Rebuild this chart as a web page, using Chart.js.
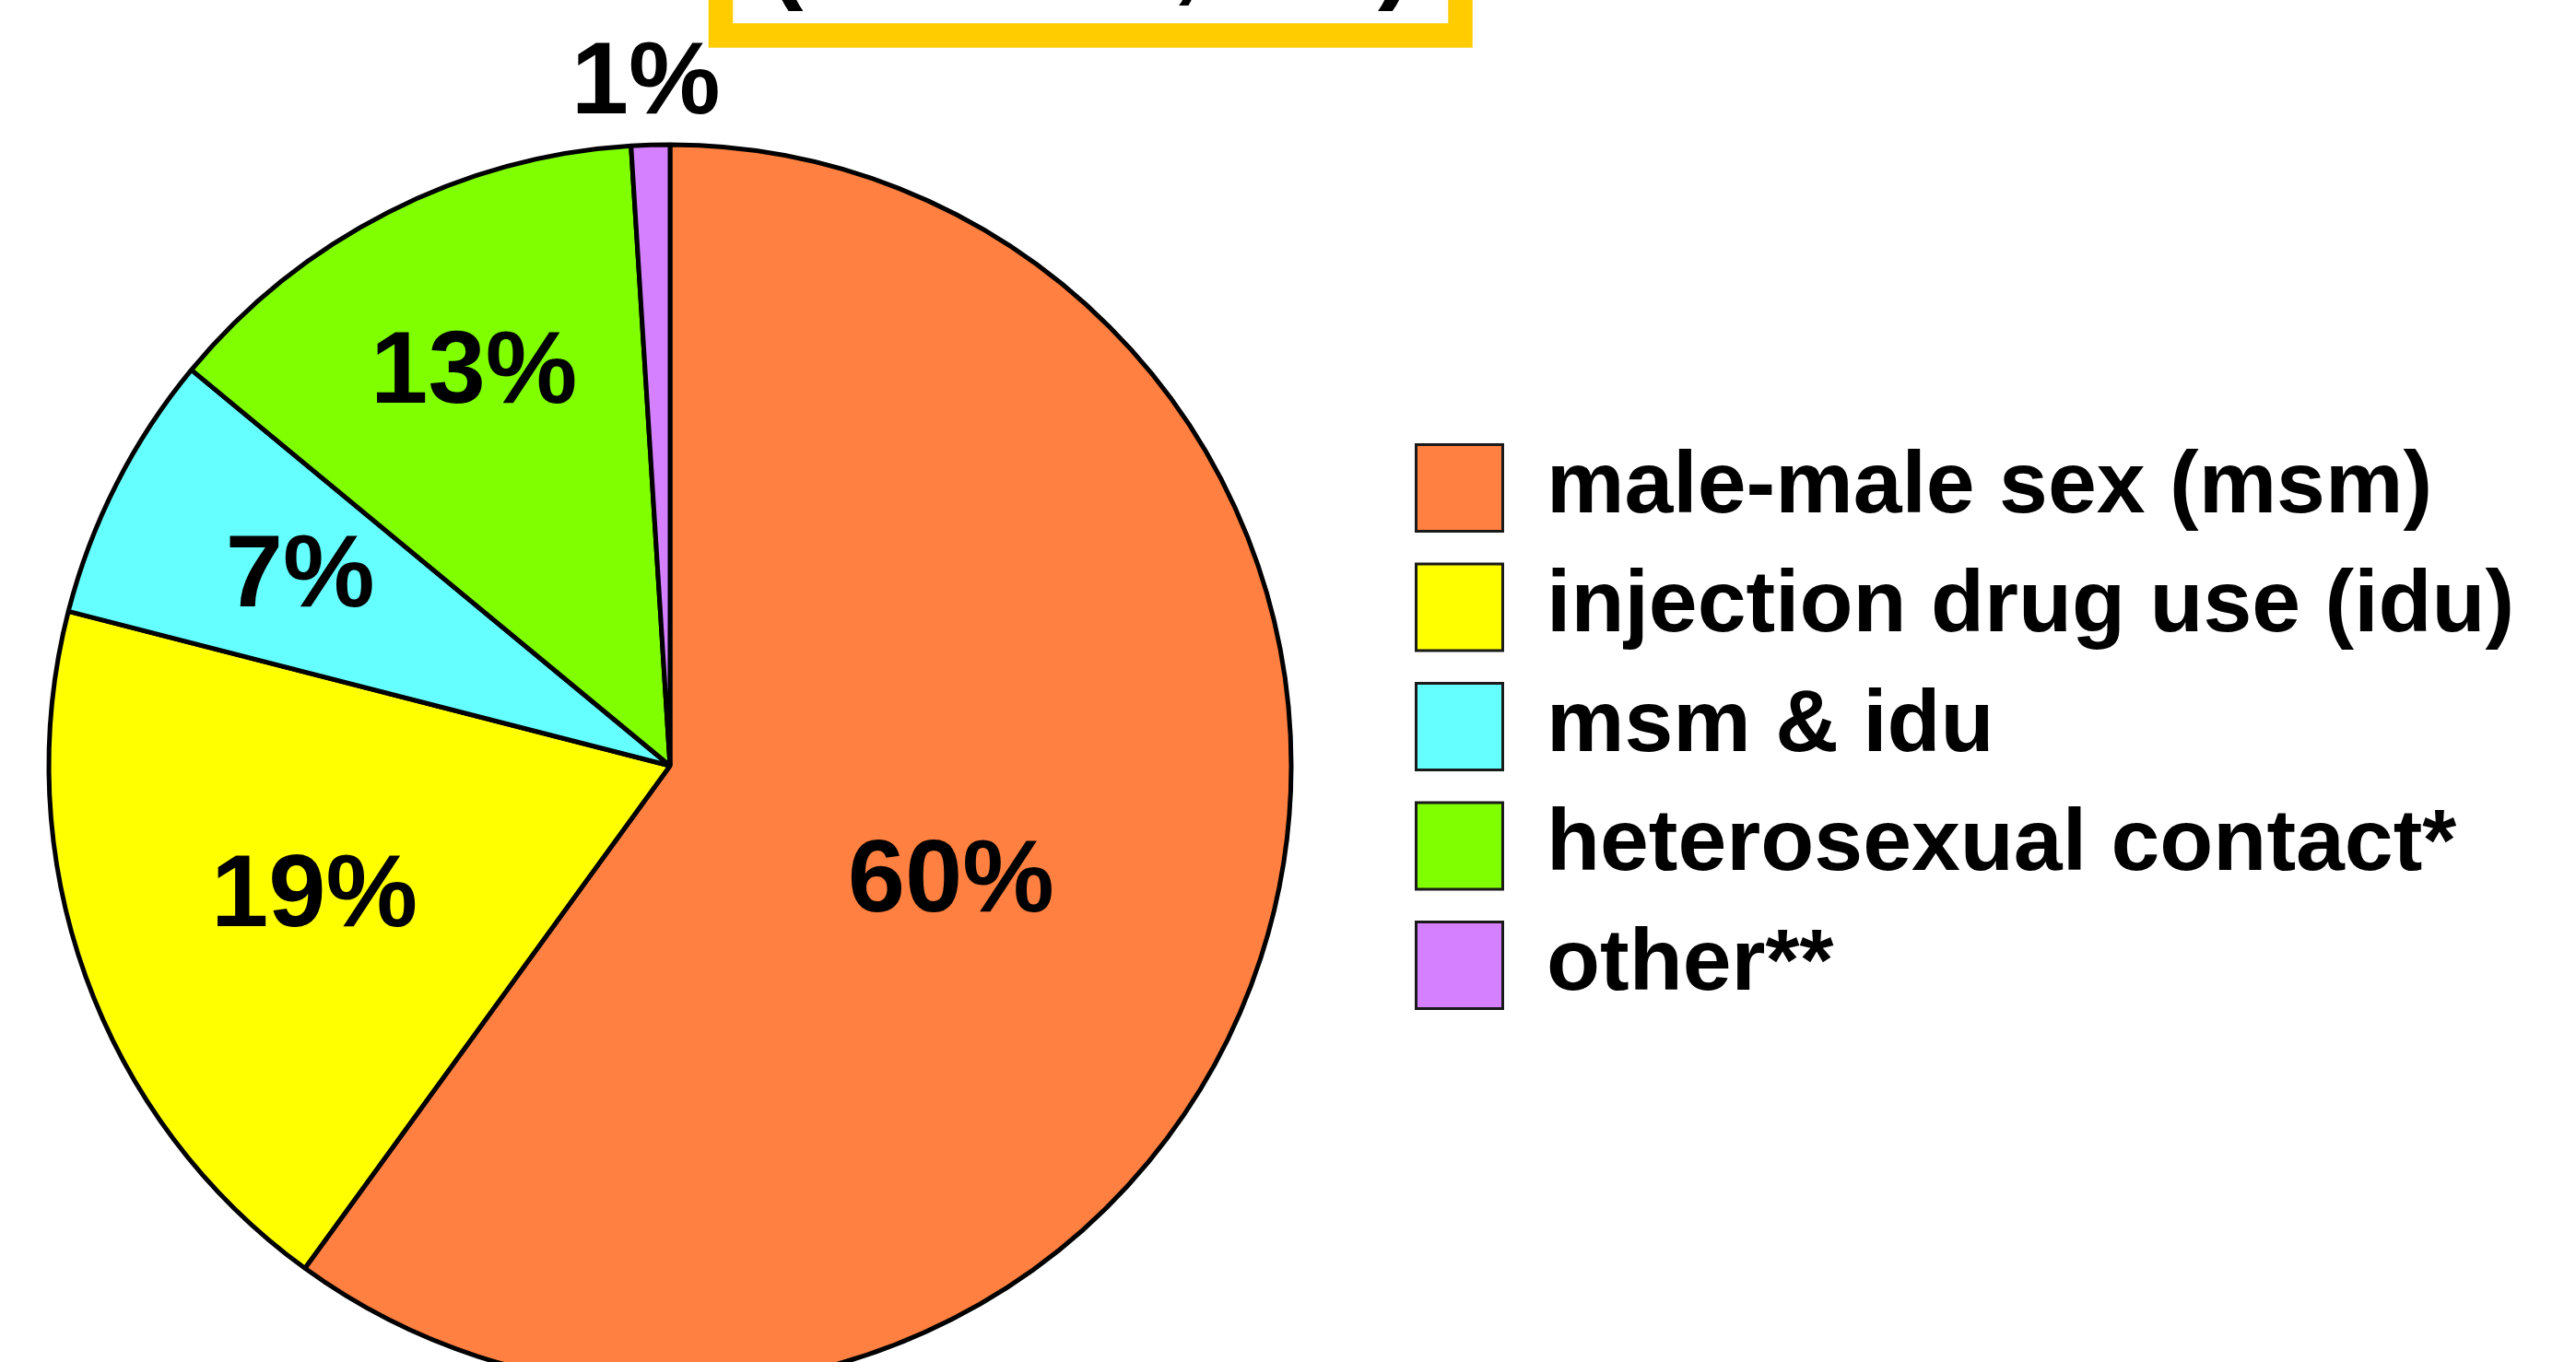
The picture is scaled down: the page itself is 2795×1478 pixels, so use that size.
<!DOCTYPE html>
<html>
<head>
<meta charset="utf-8">
<script src="https://cdn.jsdelivr.net/npm/chart.js@4/dist/chart.umd.min.js"></script>
<style>
  html, body { margin: 0; padding: 0; background: #fff; overflow: hidden; }
  #wrap { width: 2795px; height: 1478px; overflow: hidden; }
  #exposure-pie { display: block; margin-left: -54px; }
</style>
</head>
<body>
<div id="wrap"><canvas id="exposure-pie" width="2849" height="1478"></canvas></div>
<script>
(function () {
    const categories = [
        'male-male sex (msm)',
        'injection drug use (idu)',
        'msm & idu',
        'heterosexual contact*',
        'other**'
    ]
    const percents = [60, 19, 7, 13, 1]
    const sliceColors = ['#ff8040', '#ffff00', '#66ffff', '#80ff00', '#d580ff']
    const titleText = '(N = 116,130)'

    const FONT = '"Liberation Sans", Arial, Helvetica, sans-serif'
    const SHIFT = 54          // canvas is pushed 54px left of the page edge
    const CANVAS_W = 2849
    const LEGEND_FONT = 95
    const BOX = 94
    const LEGEND_PAD = 34.5
    const LEGEND_LEFT = 1502 + SHIFT

    // legend is as wide as its longest label, so size the right padding from that
    const measure = document.createElement('canvas').getContext('2d')
    measure.font = 'bold ' + LEGEND_FONT + 'px ' + FONT
    const longest = Math.max(...categories.map(c => measure.measureText(c).width))
    const legendWidth = LEGEND_PAD + BOX + LEGEND_FONT / 2 + longest + 10
    const padRight = CANVAS_W - LEGEND_LEFT - legendWidth
    // pie centre sits half way across the chart area, keep it at x=727 on the page
    const padLeft = 2 * (727 + SHIFT) - LEGEND_LEFT

    // percent labels, placed inside each slice (fraction of slice angle, fraction of radius)
    const sliceLabels = {
        id: 'sliceLabels',
        afterDatasetsDraw(chart, args, opts) {
            const ctx = chart.ctx
            const arcs = chart.getDatasetMeta(0).data
            ctx.save()
            ctx.font = 'bold ' + opts.size + 'px ' + FONT
            ctx.fillStyle = '#000'
            ctx.textAlign = 'center'
            ctx.textBaseline = 'middle'
            arcs.forEach((arc, i) => {
                const p = arc.getProps(['x', 'y', 'startAngle', 'endAngle', 'outerRadius'], true)
                const a = p.startAngle + (p.endAngle - p.startAngle) * opts.spans[i]
                const r = p.outerRadius * opts.radii[i]
                ctx.fillText(percents[i] + '%', p.x + Math.cos(a) * r, p.y + Math.sin(a) * r + opts.dy)
            })
            ctx.restore()
        }
    }

    // yellow framed title, mostly cut off by the top edge
    const titleBox = {
        id: 'titleBox',
        afterDraw(chart, args, opts) {
            const ctx = chart.ctx
            const left = opts.left + SHIFT
            const right = opts.right + SHIFT
            ctx.save()
            ctx.strokeStyle = opts.color
            ctx.lineWidth = opts.lineWidth
            ctx.strokeRect(left, opts.bottom - 300, right - left, 300)
            ctx.font = 'bold ' + opts.size + 'px ' + FONT
            ctx.fillStyle = '#000'
            ctx.textAlign = 'center'
            ctx.textBaseline = 'alphabetic'
            ctx.fillText(titleText, (left + right) / 2, opts.baseline)
            ctx.restore()
        }
    }

    const ctx = document.getElementById('exposure-pie')

    new Chart(ctx, {
        type: 'pie',
        data: {
            labels: categories,
            datasets: [{
                data: percents,
                backgroundColor: sliceColors,
                borderColor: '#000',
                borderWidth: 5,
                radius: 674,
                clip: false
            }]
        },
        plugins: [sliceLabels, titleBox],
        options: {
            responsive: false,
            animation: false,
            events: [],
            layout: {
                padding: { left: padLeft, right: padRight, top: 447.5, bottom: 263.5 }
            },
            plugins: {
                tooltip: { enabled: false },
                legend: {
                    position: 'right',
                    align: 'start',
                    labels: {
                        boxWidth: BOX,
                        boxHeight: BOX,
                        padding: LEGEND_PAD,
                        color: '#000',
                        font: { family: FONT, size: LEGEND_FONT, weight: 'bold' },
                        generateLabels(chart) {
                            const items = Chart.overrides.pie.plugins.legend.labels.generateLabels(chart)
                            return items.map(item => Object.assign(item, { lineWidth: 3, strokeStyle: '#1a1a1a' }))
                        }
                    }
                },
                sliceLabels: {
                    size: 112,
                    dy: 7,
                    spans: [0.516, 0.506, 0.53, 0.517, 0.44],
                    radii: [0.486, 0.607, 0.673, 0.715, 1.108]
                },
                titleBox: {
                    color: '#ffcc00',
                    lineWidth: 26.5,
                    left: 782,
                    right: 1584.5,
                    bottom: 38.5,
                    size: 115,
                    baseline: -12
                }
            }
        }
    });
})();
</script>
</body>
</html>
